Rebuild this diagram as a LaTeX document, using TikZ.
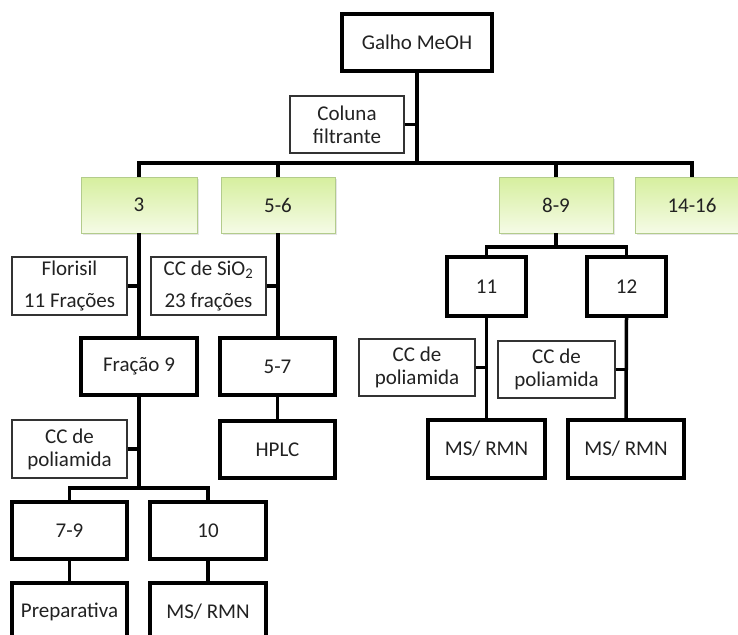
\documentclass[tikz,border=0pt]{standalone}
\usepackage{fontspec}
\setmainfont{Carlito}
\usetikzlibrary{shadows}
\definecolor{gtop}{HTML}{D6EF9E}
\definecolor{gbot}{HTML}{F5FBE6}
\definecolor{gborder}{HTML}{B3CC8C}
\definecolor{txt}{HTML}{222222}
\begin{document}
\begin{tikzpicture}[x=1pt,y=-1pt,
  every node/.style={inner sep=0pt, align=center, text=txt, font=\fontsize{21}{23}\selectfont},
  bbox/.style={draw=black, line width=3.5pt, fill=white},
  tbox/.style={draw=black!80, line width=1.1pt, fill=white},
  gbox/.style={draw=gborder, line width=0.8pt, top color=gtop, bottom color=gbot,
     drop shadow={opacity=0.2, shadow xshift=1.5pt, shadow yshift=-2pt}},
  wide/.style={font=\fontsize{21}{32}\selectfont},
  conn/.style={draw=black, line width=3.5pt, line join=miter}
]
\useasboundingbox (0,0) rectangle (738,634);
\clip (0,0) rectangle (738,634);
\fill[white] (0,0) rectangle (738,634);

% coordinates for bars
\coordinate (bar1) at (0,163);
\coordinate (bar2) at (0,488);
\coordinate (bar3) at (0,247);

% nodes
\node[bbox, minimum width=150pt, minimum height=57pt] (galho) at (417,42.5) {Galho MeOH};
\node[tbox, minimum width=114pt, minimum height=57pt] (coluna) at (347,124.5) {Coluna\\filtrante};

\node[gbox, minimum width=116pt, minimum height=56pt] (g3) at (139,205) {3};
\node[gbox, minimum width=114pt, minimum height=56pt] (g56) at (278,205) {5-6};
\node[gbox, minimum width=114pt, minimum height=56pt] (g89) at (556,205) {8-9};
\node[gbox, minimum width=114pt, minimum height=56pt] (g1416) at (692,205) {14-16};

\node[tbox, wide, minimum width=115pt, minimum height=58pt] (flor) at (69.5,286) {Florisil\\11 Frações};
\node[tbox, wide, minimum width=115pt, minimum height=58pt] (sio2) at (208.5,286) {CC de SiO\textsubscript{2}\\23 frações};

\node[bbox, minimum width=116pt, minimum height=57pt] (frac9) at (139,366.5) {Fração 9};
\node[bbox, minimum width=115pt, minimum height=57pt] (b57) at (277.5,366.5) {5-7};

\node[tbox, minimum width=115pt, minimum height=58pt] (poli1) at (69.5,449) {CC de\\poliamida};
\node[bbox, minimum width=115pt, minimum height=57pt] (hplc) at (277.5,449.5) {HPLC};

\node[bbox, minimum width=115pt, minimum height=57pt] (b79) at (69.5,530.5) {7-9};
\node[bbox, minimum width=116pt, minimum height=57pt] (b10) at (208,530.5) {10};

\node[bbox, minimum width=115pt, minimum height=57pt] (prep) at (69.5,611.5) {Preparativa};
\node[bbox, minimum width=116pt, minimum height=57pt] (ms1) at (208,611.5) {MS/ RMN};

\node[bbox, minimum width=79pt, minimum height=59pt] (b11) at (486.5,286.5) {11};
\node[bbox, minimum width=79pt, minimum height=59pt] (b12) at (626.5,286.5) {12};

\node[tbox, minimum width=116pt, minimum height=57pt] (poli2) at (417,367.5) {CC de\\poliamida};
\node[tbox, minimum width=117pt, minimum height=57pt] (poli3) at (556.5,369.5) {CC de\\poliamida};

\node[bbox, minimum width=117pt, minimum height=58pt] (ms2) at (486.5,449) {MS/ RMN};
\node[bbox, minimum width=116pt, minimum height=58pt] (ms3) at (626,449) {MS/ RMN};

% connectors
\draw[conn] (galho.south) -- (galho.south |- bar1);
\draw[conn] (g3.north) -- (g3.north |- bar1) -- (g1416.north |- bar1) -- (g1416.north);
\draw[conn] (g56.north) -- (g56.north |- bar1);
\draw[conn] (g89.north) -- (g89.north |- bar1);
\draw[conn] (coluna.east) -- (coluna.east -| galho.south);

\draw[conn] (g3.south) -- (frac9.north);
\draw[conn] (flor.east) -- (flor.east -| g3.south);
\draw[conn] (g56.south) -- (g56.south |- b57.north);
\draw[conn] (sio2.east) -- (sio2.east -| g56.south);
\draw[conn] (b57.south) -- (hplc.north);

\draw[conn] (frac9.south) -- (frac9.south |- bar2);
\draw[conn] (b79.north) -- (b79.north |- bar2) -- (b10.north |- bar2) -- (b10.north);
\draw[conn] (poli1.east) -- (poli1.east -| frac9.south);
\draw[conn] (b79.south) -- (prep.north);
\draw[conn] (b10.south) -- (ms1.north);

\draw[conn] (g89.south) -- (g89.south |- bar3);
\draw[conn] (b11.north) -- (b11.north |- bar3) -- (b12.north |- bar3) -- (b12.north);
\draw[conn] (b11.south) -- (ms2.north);
\draw[conn] (b12.south) -- (ms3.north);
\draw[conn] (poli2.east) -- (poli2.east -| b11.south);
\draw[conn] (poli3.east) -- (poli3.east -| b12.south);
\end{tikzpicture}
\end{document}
